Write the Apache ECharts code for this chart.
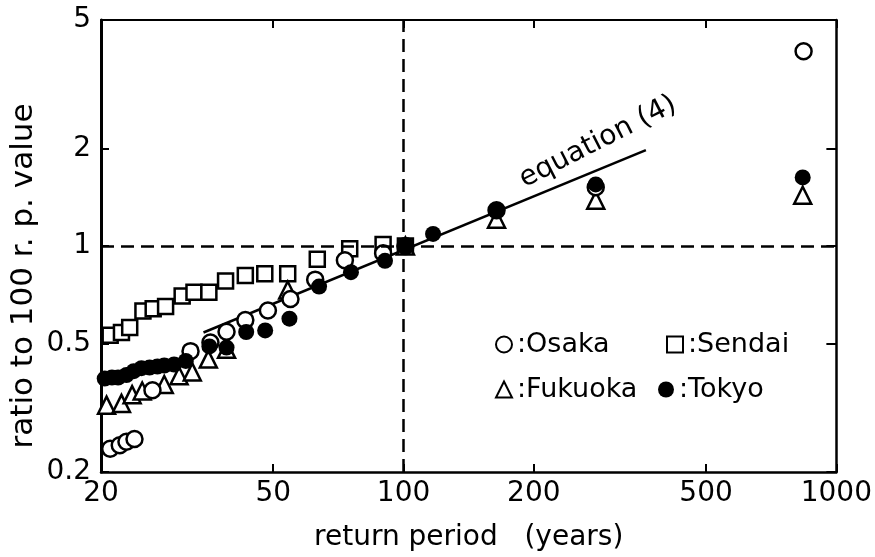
<!DOCTYPE html>
<html>
<head>
<meta charset="utf-8">
<script src="https://cdn.jsdelivr.net/npm/echarts@6.0.0/dist/echarts.min.js"></script>
<style>
html, body { margin: 0; padding: 0; background: #fff; }
#chart { width: 875px; height: 557px; }
</style>
</head>
<body>
<div id="chart"></div>
<script>
// values (return period in years, ratio to 100 r.p. value)
const xTicks = [20, 50, 100, 200, 500, 1000];
const yTicks = [0.2, 0.5, 1, 2, 5];

const osakaT = [21.0, 22.1, 22.9, 23.9, 26.3, 32.2, 35.8, 39.0, 43.1, 48.6, 54.8, 62.5, 73.2, 89.7, 101, 164, 278, 840];
const osakaV = [0.236, 0.242, 0.248, 0.253, 0.358, 0.473, 0.503, 0.543, 0.590, 0.632, 0.686, 0.787, 0.904, 0.95, 1.0, 1.29, 1.52, 4.0];

const sendaiT = [21.0, 22.3, 23.3, 25.0, 26.4, 28.2, 30.8, 32.8, 35.5, 38.8, 43.1, 47.8, 54.0, 63.2, 75.1, 89.7, 101];
const sendaiV = [0.53, 0.54, 0.56, 0.63, 0.64, 0.65, 0.70, 0.72, 0.72, 0.78, 0.81, 0.82, 0.82, 0.91, 0.98, 1.01, 1.0];

const fukuokaT = [20.6, 22.3, 23.6, 24.9, 28.0, 30.3, 32.5, 35.4, 39.0, 54.0, 101, 164, 278, 836];
const fukuokaV = [0.322, 0.326, 0.347, 0.356, 0.373, 0.397, 0.408, 0.447, 0.479, 0.731, 1.0, 1.21, 1.385, 1.436];

const tokyoT = [20.4, 21.2, 21.9, 22.9, 23.8, 24.8, 25.9, 27.0, 28.0, 29.5, 31.4, 35.6, 39.0, 43.3, 47.9, 54.5, 63.8, 75.6, 90.6, 101, 117, 164, 278, 836];
const tokyoV = [0.389, 0.392, 0.392, 0.399, 0.41, 0.419, 0.421, 0.424, 0.427, 0.43, 0.441, 0.489, 0.485, 0.542, 0.548, 0.596, 0.749, 0.83, 0.90, 1.0, 1.09, 1.29, 1.55, 1.63];

// equation (4) line end points
const eqT = [34.5, 363];
const eqV = [0.54, 1.98];

const font = 'DejaVu Sans';

function pairs(t, v) {
    return t.map((x, i) => [x, v[i]]);
}

let chart = echarts.init(document.getElementById('chart'));

const openStyle = { color: '#fff', borderColor: '#000', borderWidth: 2.5, opacity: 1 };

let option = {
    animation: false,
    backgroundColor: '#fff',
    grid: { left: 101, right: 29, top: 20, bottom: 81, containLabel: false },
    xAxis: [
        {
            type: 'log', logBase: 10, min: 20, max: 1000, position: 'bottom',
            name: 'return period   (years)', nameLocation: 'middle', nameGap: 52,
            nameTextStyle: { fontSize: 28, fontFamily: font, color: '#000' },
            axisLine: { lineStyle: { color: '#000', width: 2.5 } },
            axisTick: { inside: true, length: 8, customValues: xTicks, lineStyle: { color: '#000', width: 2 } },
            axisLabel: { customValues: xTicks, formatter: v => String(v), fontSize: 28, fontFamily: font, color: '#000', margin: 8 },
            splitLine: { show: false }, minorTick: { show: false }
        },
        {
            type: 'log', logBase: 10, min: 20, max: 1000, position: 'top',
            axisLine: { lineStyle: { color: '#000', width: 2 } },
            axisTick: { inside: true, length: 8, customValues: xTicks, lineStyle: { color: '#000', width: 2 } },
            axisLabel: { show: false },
            splitLine: { show: false }
        }
    ],
    yAxis: [
        {
            type: 'log', logBase: 10, min: 0.2, max: 5, position: 'left',
            axisLine: { lineStyle: { color: '#000', width: 3 } },
            axisTick: { inside: true, length: 8, customValues: yTicks, lineStyle: { color: '#000', width: 2 } },
            axisLabel: { customValues: yTicks, fontSize: 28, fontFamily: font, color: '#000', margin: 10 },
            splitLine: { show: false }, minorTick: { show: false }
        },
        {
            type: 'log', logBase: 10, min: 0.2, max: 5, position: 'right',
            axisLine: { lineStyle: { color: '#000', width: 2.5 } },
            axisTick: { inside: true, length: 10, customValues: yTicks, lineStyle: { color: '#000', width: 2 } },
            axisLabel: { show: false },
            splitLine: { show: false }
        }
    ],
    legend: [
        { left: 490, top: 326, data: ['Osaka'] },
        { left: 661, top: 326, data: ['Sendai'] },
        { left: 490, top: 371, data: ['Fukuoka'] },
        { left: 653, top: 371, data: ['Tokyo'] }
    ].map(l => Object.assign(l, {
        itemWidth: 16, itemHeight: 16, itemGap: 4,
        formatter: ':{name}',
        textStyle: { fontSize: 27, fontFamily: font, color: '#000' }
    })),
    graphic: [
        {
            type: 'text', x: 598, y: 142, rotation: 0.47,
            style: { text: 'equation (4)', fontSize: 28, fontFamily: font, fill: '#000', textAlign: 'center', textVerticalAlign: 'middle' }
        },
        {
            type: 'text', x: 24, y: 276, rotation: Math.PI / 2,
            style: { text: 'ratio to 100 r. p. value', fontSize: 31, fontFamily: font, fill: '#000', textAlign: 'center', textVerticalAlign: 'middle' }
        }
    ],
    series: [
        {
            name: 'equation', type: 'line', data: pairs(eqT, eqV), symbol: 'none',
            lineStyle: { color: '#000', width: 2.5 }, z: 1,
            markLine: {
                silent: true, symbol: ['none', 'none'], label: { show: false },
                lineStyle: { color: '#000', width: 2.5, type: [13, 7] },
                data: [{ xAxis: 100 }, { yAxis: 1 }]
            }
        },
        { name: 'Sendai', type: 'scatter', symbol: 'rect', symbolSize: 15, data: pairs(sendaiT, sendaiV), itemStyle: openStyle, z: 2 },
        { name: 'Fukuoka', type: 'scatter', symbol: 'triangle', symbolSize: 17, data: pairs(fukuokaT, fukuokaV), itemStyle: openStyle, z: 3 },
        { name: 'Osaka', type: 'scatter', symbol: 'circle', symbolSize: 16, data: pairs(osakaT, osakaV), itemStyle: openStyle, z: 4 },
        { name: 'Tokyo', type: 'scatter', symbol: 'circle', symbolSize: 16, data: pairs(tokyoT, tokyoV), itemStyle: { color: '#000', opacity: 1 }, z: 5 }
    ]
};

chart.setOption(option);
</script>
</body>
</html>
